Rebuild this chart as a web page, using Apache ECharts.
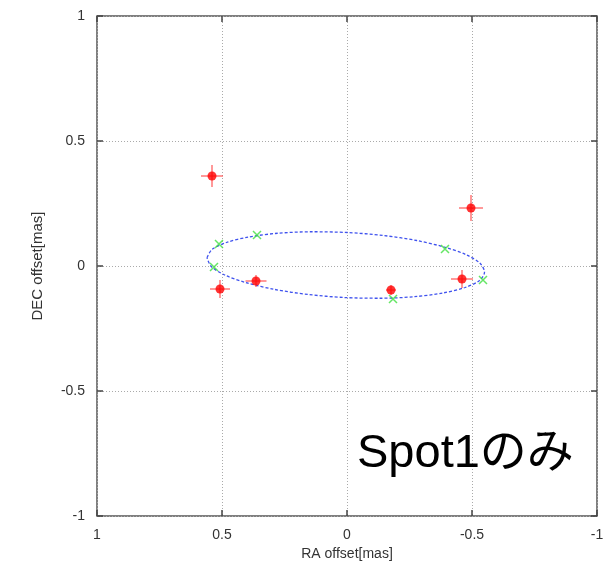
<!DOCTYPE html>
<html><head><meta charset="utf-8">
<script src="https://cdn.jsdelivr.net/npm/echarts@6/dist/echarts.min.js"></script>
<style>html,body{margin:0;padding:0;background:#fff}#c{width:608px;height:566px}</style>
</head><body><div id="c"></div>
<script>
// Observed spot positions (RA offset, DEC offset) in mas, with errors
const obsRA   = [0.54, 0.508, 0.364, -0.176, -0.46, -0.496];
const obsDEC  = [0.36, -0.092, -0.06, -0.096, -0.052, 0.232];
const errRA   = [0.044, 0.04, 0.042, 0.02, 0.044, 0.048];
const errDEC  = [0.044, 0.036, 0.024, 0.02, 0.036, 0.052];
// Model positions (green crosses)
const modRA   = [0.512, 0.36, 0.532, -0.392, -0.184, -0.544];
const modDEC  = [0.088, 0.124, -0.004, 0.068, -0.132, -0.056];
// Orbit ellipse points
const orbRA   = [0.560, 0.540, 0.482, 0.393, 0.277, 0.142, -0.002, -0.145, -0.279, -0.392, -0.479, -0.533, -0.550, -0.530, -0.472, -0.383, -0.267, -0.132, 0.012, 0.155, 0.288, 0.402, 0.489, 0.543, 0.560];
const orbDEC  = [0.033, 0.066, 0.094, 0.116, 0.131, 0.137, 0.134, 0.122, 0.102, 0.075, 0.044, 0.010, -0.025, -0.058, -0.086, -0.108, -0.123, -0.129, -0.126, -0.114, -0.094, -0.067, -0.036, -0.002, 0.033];
const ticks = [-1, -0.5, 0, 0.5, 1];
const xName = 'RA offset[mas]';
const yName = 'DEC offset[mas]';
const note = 'Spot1のみ';

const obs = obsRA.map((x,i)=>[x, obsDEC[i], errRA[i], errDEC[i]]);
const mod = modRA.map((x,i)=>[x, modDEC[i]]);
const orb = orbRA.map((x,i)=>[x, orbDEC[i]]);

const font = '"Liberation Sans", Arial, sans-serif';
const lbl = {color:'#333', fontSize:14, fontFamily:font};
const fmt = v => ticks.includes(v) ? String(v) : '';
const grid = {left:97, right:11, top:16, bottom:49, show:true, borderColor:'#555', borderWidth:1.5, backgroundColor:'#fff'};
const tick = {show:true, inside:true, length:6, lineStyle:{color:'#444', width:1.5}};

const chart = echarts.init(document.getElementById('c'), null, {renderer:'canvas'});
chart.setOption({
  animation:false,
  grid: grid,
  xAxis: [
    {type:'value', min:-1, max:1, interval:0.5, inverse:true, position:'bottom',
     axisLine:{show:false, onZero:false}, axisTick:tick,
     axisLabel:Object.assign({margin:12, formatter:fmt}, lbl),
     splitLine:{show:true, lineStyle:{color:'#aaa', type:[1,2], width:1}},
     name:xName, nameLocation:'middle', nameGap:31, nameTextStyle:{color:'#333', fontSize:14, fontFamily:font}},
    {type:'value', min:-1, max:1, interval:0.5, inverse:true, position:'top',
     axisLine:{show:false, onZero:false}, axisTick:tick,
     axisLabel:{show:false}, splitLine:{show:false}}
  ],
  yAxis: [
    {type:'value', min:-1, max:1, interval:0.5, position:'left',
     axisLine:{show:false, onZero:false}, axisTick:tick,
     axisLabel:Object.assign({margin:12, formatter:fmt}, lbl),
     splitLine:{show:true, lineStyle:{color:'#aaa', type:[1,2], width:1}},
     name:yName, nameLocation:'middle', nameGap:52, nameTextStyle:{color:'#333', fontSize:15, fontFamily:font}},
    {type:'value', min:-1, max:1, interval:0.5, position:'right',
     axisLine:{show:false, onZero:false}, axisTick:tick,
     axisLabel:{show:false}, splitLine:{show:false}}
  ],
  series: [
    {type:'line', data:orb, smooth:0.3, showSymbol:false, z:2,
     lineStyle:{color:'#3f52ee', width:1.3, type:[3,2]}},
    {type:'custom', z:3, data:obs,
     renderItem:(params, api)=>{
       const x=api.value(0), y=api.value(1), ex=api.value(2), ey=api.value(3);
       const a=api.coord([x-ex,y]), b=api.coord([x+ex,y]);
       const c=api.coord([x,y-ey]), d=api.coord([x,y+ey]);
       const st={stroke:'rgba(255,70,70,0.55)', lineWidth:2};
       return {type:'group', children:[
         {type:'line', shape:{x1:a[0],y1:a[1],x2:b[0],y2:b[1]}, style:st},
         {type:'line', shape:{x1:c[0],y1:c[1],x2:d[0],y2:d[1]}, style:st}
       ]};
     }},
    {type:'scatter', data:obs.map(p=>[p[0],p[1]]), symbol:'circle', symbolSize:9, z:4,
     itemStyle:{color:'#ff0000'}},
    {type:'scatter', data:mod, symbol:'path://M0,0L10,10M10,0L0,10', symbolSize:8, z:5,
     itemStyle:{color:'none', borderColor:'#3ee03e', borderWidth:1.5}}
  ],
  graphic:[
    {type:'text', left:357, top:431, z:10,
     style:{text:note, fontSize:47, fill:'#000', fontFamily:'"Liberation Sans","Noto Sans CJK JP",sans-serif'}}
  ]
});
</script>
</body></html>
